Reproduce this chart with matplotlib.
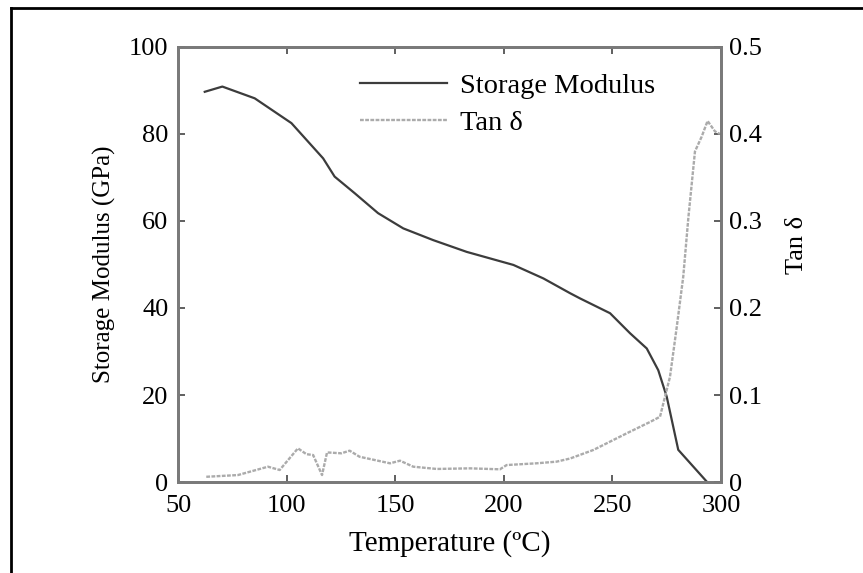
import matplotlib
matplotlib.use('Agg')
import matplotlib.pyplot as plt
from matplotlib.lines import Line2D

plt.rcParams['font.family'] = ['Liberation Serif', 'DejaVu Serif']

# storage modulus (GPa) vs temperature
temp_e = [62.3, 70.4, 85.3, 102.2, 116.8, 122.1, 131.3, 142.1, 153.7, 167.5,
          182.9, 204.4, 218.2, 230.5, 235.1, 248.9, 258.1, 265.8, 271.1,
          275.0, 280.3, 293.4]
modulus = [89.7, 90.9, 88.2, 82.5, 74.4, 70.2, 66.4, 61.8, 58.3, 55.6,
           52.9, 49.9, 46.8, 43.4, 42.2, 38.8, 34.2, 30.7, 25.7,
           19.6, 7.4, 0.1]

# tan delta vs temperature
temp_t = [63.0, 77.6, 91.4, 96.8, 105.2, 109.1, 112.2, 116.3, 118.6, 125.2,
          129.0, 133.6, 140.5, 147.6, 152.2, 158.3, 169.1, 184.4, 198.2,
          201.3, 215.1, 224.3, 230.5, 241.2, 256.6, 267.3, 271.9, 276.5,
          279.6, 282.6, 285.0, 288.0, 291.1, 293.8, 297.2, 299.5]
tan_d = [0.006, 0.008, 0.0176, 0.0138, 0.0387, 0.032, 0.031, 0.008, 0.034, 0.033,
         0.036, 0.029, 0.0253, 0.0215, 0.0245, 0.0176, 0.015, 0.0157, 0.0146,
         0.0195, 0.0215, 0.0234, 0.027, 0.0368, 0.056, 0.069, 0.075, 0.121,
         0.178, 0.236, 0.305, 0.380, 0.397, 0.415, 0.403, 0.400]

fig = plt.figure(figsize=(8.63, 5.73), dpi=100)
ax = fig.add_axes([0.2063, 0.1588, 0.6292, 0.7592])
ax2 = ax.twinx()

spine_col = '#7a7a7a'
l1, = ax.plot(temp_e, modulus, color='#3c3c3c', lw=1.6, label='Storage Modulus')
l2, = ax2.plot(temp_t, tan_d, color='#ababab', lw=1.7, ls=(0, (1.6, 0.6)), label='Tan δ')

ax.set_xlim(50, 300)
ax.set_ylim(0, 100)
ax2.set_ylim(0, 0.5)
ax.set_xticks([50, 100, 150, 200, 250, 300])
ax.set_yticks([0, 20, 40, 60, 80, 100])
ax2.set_yticks([0, 0.1, 0.2, 0.3, 0.4, 0.5])
ax2.set_yticklabels(['0', '0.1', '0.2', '0.3', '0.4', '0.5'])

for a in (ax, ax2):
    for s in a.spines.values():
        s.set_color(spine_col)
        s.set_linewidth(2)
ax.tick_params(axis='both', direction='in', top=True, length=5, width=1.2,
               color='#444444', labelsize=19, pad=7)
ax.tick_params(axis='x', pad=9)
ax.tick_params(axis='y', right=False)
ax2.tick_params(axis='y', direction='in', length=5, width=1.2,
                color='#444444', labelsize=19, pad=6)

ax.set_xlabel('Temperature (ºC)', fontsize=21, labelpad=10)
ax.set_ylabel('Storage Modulus (GPa)', fontsize=18, labelpad=9)
ax2.set_ylabel('Tan δ', fontsize=19)
ax2.yaxis.set_label_coords(1.12, 0.545)

ax.legend(handles=[l1, l2], loc='upper left', frameon=False, fontsize=20.5,
          handlelength=3.05, handletextpad=0.45, labelspacing=0.4,
          bbox_to_anchor=(0.288, 1.0))

# outer frame of the figure image
fx = 11 / 863
fy = 1 - 7.5 / 573
fig.add_artist(Line2D([fx, fx], [0, fy], color='black', lw=2))
fig.add_artist(Line2D([fx, 1], [fy, fy], color='black', lw=2))

fig.savefig('out.png', dpi=100)
